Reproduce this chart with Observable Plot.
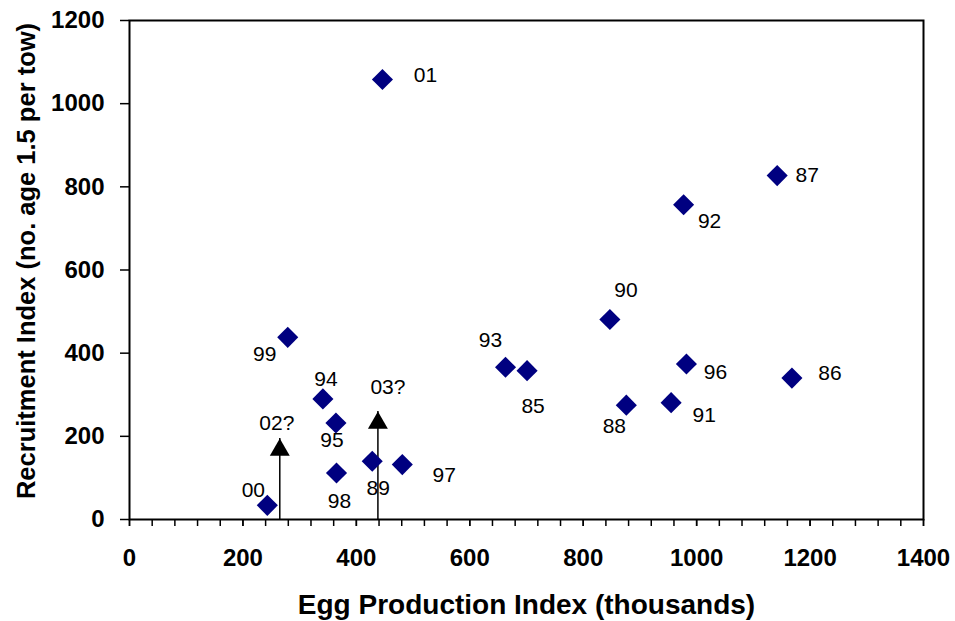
<!DOCTYPE html>
<html>
<head>
<meta charset="utf-8">
<script src="https://cdn.jsdelivr.net/npm/d3@7"></script>
<script src="https://cdn.jsdelivr.net/npm/@observablehq/plot@0.6"></script>
<style>
  html, body { margin: 0; padding: 0; background: #fff; }
  #chart { width: 955px; height: 621px; }
</style>
</head>
<body>
<div id="chart"></div>
<script>
// Year labels, egg production index (thousands), recruitment index
const years = ["85","86","87","88","89","90","91","92","93","94","95","96","97","98","99","00","01"];
const eggIndex = [701, 1168, 1142, 876, 428, 847, 955, 977, 663, 341, 364, 982, 481, 365, 279, 243, 446];
const recruitIndex = [358, 340, 827, 275, 140, 481, 281, 757, 366, 290, 232, 374, 132, 112, 438, 34, 1058];

// Unknown-recruitment years shown as arrows (lower bounds)
const arrowYears = ["02?", "03?"];
const arrowEgg = [265, 438];
const arrowRecruit = [195, 260];

// Axis ticks
const xTicks = [0, 200, 400, 600, 800, 1000, 1200, 1400];
const xMinorTicks = d3.range(0, 1401, 40);
const yTicks = [0, 200, 400, 600, 800, 1000, 1200];

const xTitle = "Egg Production Index (thousands)";
const yTitle = "Recruitment Index (no. age 1.5 per tow)";

const points = years.map((yr, i) => ({year: yr, x: eggIndex[i], y: recruitIndex[i]}));
const arrows = arrowYears.map((yr, i) => ({year: yr, x: arrowEgg[i], y: arrowRecruit[i]}));

// label placement (pixel offsets from the marker)
const labelOffset = {
  "85": [6, 36], "86": [38, -5], "87": [30, 0], "88": [-12, 21], "89": [6, 27],
  "90": [16, -29], "91": [33, 13], "92": [26, 17], "93": [-15, -27], "94": [3, -20],
  "95": [-4, 17], "96": [29, 8], "97": [42, 11], "98": [3, 28], "99": [-23, 17],
  "00": [-14, -15], "01": [43, -4], "02?": [-3, -15], "03?": [10, -24]
};

const font = "Liberation Sans, Arial, Helvetica, sans-serif";

const labelMarks = points.concat(arrows).map(p =>
  Plot.text([p], {
    x: "x", y: "y", text: "year",
    dx: labelOffset[p.year][0], dy: labelOffset[p.year][1],
    fontSize: 21, fill: "black", textAnchor: "middle", lineAnchor: "middle"
  })
);

const chart = Plot.plot({
  width: 955,
  height: 621,
  marginLeft: 129,
  marginRight: 32,
  marginTop: 20,
  marginBottom: 102,
  style: {fontFamily: font, color: "black", background: "white"},
  x: {domain: [0, 1400]},
  y: {domain: [0, 1200]},
  marks: [
    Plot.axisX({ticks: xMinorTicks, tickSize: 7, tickFormat: () => "", strokeWidth: 1.5, label: null}),
    Plot.axisX({ticks: xTicks, tickSize: 7, tickPadding: 22, tickFormat: d => String(d), fontSize: 24, fontWeight: "bold", strokeWidth: 1.5, label: null}),
    Plot.axisY({ticks: yTicks, tickSize: 9, tickPadding: 16, tickFormat: d => String(d), fontSize: 24, fontWeight: "bold", strokeWidth: 1.5, label: null}),
    Plot.frame({stroke: "black", strokeWidth: 2}),
    Plot.ruleX(arrows, {x: "x", y1: () => 0, y2: "y", stroke: "black", strokeWidth: 1.5}),
    Plot.dot(arrows, {x: "x", y: "y", symbol: "triangle", r: 7.4, fill: "black", stroke: "none", dy: 11.5}),
    Plot.dot(points, {x: "x", y: "y", symbol: "diamond2", r: 9.5, fill: "#000080", stroke: "none"}),
    ...labelMarks,
    Plot.text([xTitle], {text: d => d, frameAnchor: "bottom", textAnchor: "middle", lineAnchor: "middle", dy: 86, fontSize: 28, fontWeight: "bold", fill: "black"}),
    Plot.text([yTitle], {text: d => d, frameAnchor: "left", textAnchor: "middle", lineAnchor: "middle", dx: -103, dy: -9, rotate: -90, fontSize: 25.5, fontWeight: "bold", fill: "black"})
  ]
});

// make sure axis tick labels get the intended size
chart.querySelectorAll('g[aria-label="x-axis tick label"], g[aria-label="y-axis tick label"]').forEach(g => {
  g.setAttribute("font-size", "24");
  g.setAttribute("font-weight", "bold");
});

document.getElementById("chart").appendChild(chart);
</script>
</body>
</html>
